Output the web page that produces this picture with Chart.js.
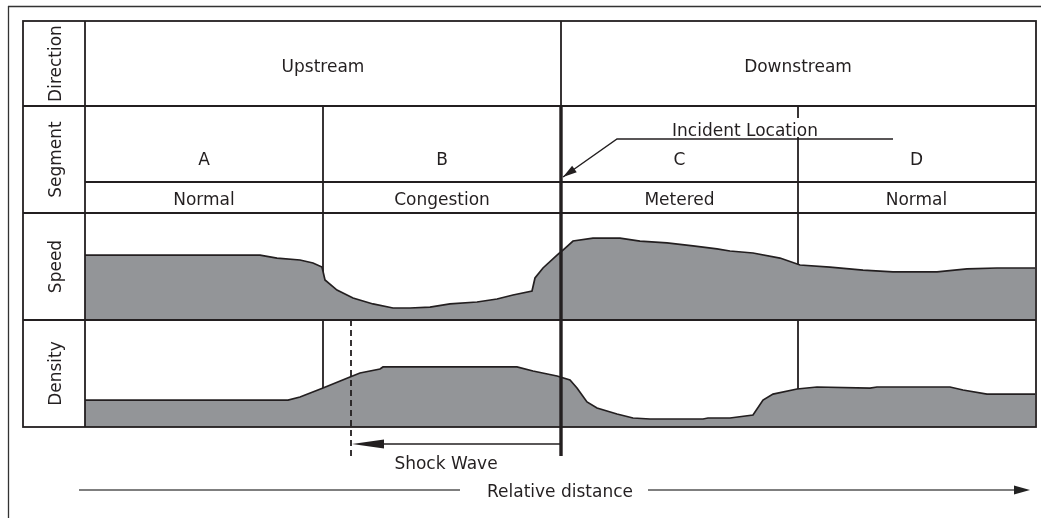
<!DOCTYPE html>
<html>
<head>
<meta charset="utf-8">
<title>Shock wave</title>
<script src="https://cdn.jsdelivr.net/npm/chart.js@4.4.0/dist/chart.umd.min.js"></script>
<style>
html, body { margin: 0; padding: 0; background: #fff; }
#wrap { width: 1041px; height: 518px; }
</style>
</head>
<body>
<div id="wrap"><canvas id="myChart" width="1041" height="518"></canvas></div>
<script>
// relative distance along the road, 0 = start of segment A, 950 = end of D
var segment_edges = [0, 238, 476, 713, 950];
var segment_labels = ["A", "B", "C", "D"];
var segment_states = ["Normal", "Congestion", "Metered", "Normal"];
var direction_labels = ["Upstream", "Downstream"];
var row_labels = ["Direction", "Segment", "Speed", "Density"];
var incident_at = 476;
var shock_wave_at = 266;

// speed profile (% of row height)
var speed_x = [0, 175, 192, 215, 228, 237, 240, 252, 268, 288, 308, 325, 345, 365, 392, 412, 428, 447, 450, 458,
	472, 478, 488, 508, 535, 555, 582, 608, 632, 645, 668, 695, 715, 745, 778, 808, 852, 882, 912, 950];
var speed_values = [60.7, 60.7, 57.9, 56.1, 53.3, 49.5, 37.4, 28.0, 20.6, 15.0, 11.2, 11.2, 12.1, 15.0, 16.8, 19.6, 23.4, 27.1, 39.3, 48.6,
	60.7, 65.4, 73.8, 76.6, 76.6, 73.8, 72.0, 69.2, 66.4, 64.5, 62.6, 57.9, 51.4, 49.5, 46.7, 44.9, 44.9, 47.7, 48.6, 48.6];

// density profile (% of row height)
var density_x = [0, 203, 215, 238, 265, 275, 295, 298, 432, 448, 472, 485, 492, 502, 512, 532, 548, 565, 618, 623,
	645, 668, 678, 688, 712, 732, 785, 792, 865, 878, 902, 950];
var density_values = [25.2, 25.2, 28.0, 36.4, 46.7, 50.5, 54.2, 56.1, 56.1, 52.3, 47.7, 43.9, 36.4, 23.4, 17.8, 12.1, 8.4, 7.5, 7.5, 8.4,
	8.4, 11.2, 25.2, 30.8, 35.5, 37.4, 36.4, 37.4, 37.4, 34.6, 30.8, 30.8];

const ink = "#231f20";
const gray = "#939598";
const font = '17px "DejaVu Sans"';

function toPoints(xs, ys) {
	return xs.map(function (x, i) {
		return { x: x, y: ys[i] };
	});
}

function line(ctx, x1, y1, x2, y2) {
	ctx.beginPath();
	ctx.moveTo(x1, y1);
	ctx.lineTo(x2, y2);
	ctx.stroke();
}

function arrowHead(ctx, tipX, tipY, fromX, fromY, len, half) {
	var dx = tipX - fromX, dy = tipY - fromY;
	var d = Math.sqrt(dx * dx + dy * dy);
	var ux = dx / d, uy = dy / d;
	var bx = tipX - ux * len, by = tipY - uy * len;
	ctx.beginPath();
	ctx.moveTo(tipX, tipY);
	ctx.lineTo(bx - uy * half, by + ux * half);
	ctx.lineTo(bx + uy * half, by - ux * half);
	ctx.closePath();
	ctx.fill();
}

var tablePlugin = {
	id: "trafficTable",
	beforeDatasetsDraw: function (chart) {
		// thin segment dividers sit behind the grey profiles
		var ctx = chart.ctx;
		var xs = chart.scales.x;
		var area = chart.chartArea;
		ctx.save();
		ctx.strokeStyle = ink;
		ctx.lineWidth = 1.8;
		[segment_edges[1], segment_edges[3]].forEach(function (v) {
			var px = xs.getPixelForValue(v);
			line(ctx, px, area.top, px, area.bottom);
		});
		ctx.restore();
	},
	afterDatasetsDraw: function (chart) {
		var ctx = chart.ctx;
		var xs = chart.scales.x;
		var area = chart.chartArea;
		var mid = chart.scales.ySpeed.getPixelForValue(0);
		var left = 23, labelRight = area.left, right = area.right + 1;
		var top = 21, dirBottom = 106, letterBottom = 182, segBottom = area.top, bottom = area.bottom;
		var px = function (v) { return xs.getPixelForValue(v); };
		var incX = px(incident_at);

		ctx.save();

		// outer frame
		ctx.strokeStyle = "#333";
		ctx.lineWidth = 1.3;
		line(ctx, 8, 6.5, 1041, 6.5);
		line(ctx, 8.5, 6, 8.5, 518);

		// table grid
		ctx.strokeStyle = ink;
		ctx.lineWidth = 1.8;
		ctx.strokeRect(left, top, right - left, bottom - top);
		line(ctx, labelRight, top, labelRight, bottom);
		[dirBottom, segBottom, mid].forEach(function (y) {
			line(ctx, left, y, right, y);
		});
		line(ctx, labelRight, letterBottom, right, letterBottom);
		line(ctx, incX, top, incX, dirBottom);
		[segment_edges[1], segment_edges[3]].forEach(function (v) {
			line(ctx, px(v), dirBottom, px(v), segBottom);
		});

		// incident location
		ctx.lineWidth = 3.4;
		line(ctx, incX, dirBottom, incX, 456);

		// shock wave front
		ctx.lineWidth = 1.8;
		ctx.setLineDash([6, 4]);
		line(ctx, px(shock_wave_at), mid, px(shock_wave_at), 456);
		ctx.setLineDash([]);

		ctx.fillStyle = ink;
		ctx.font = font;

		// row labels, rotated
		var rowMids = [(top + dirBottom) / 2, (dirBottom + segBottom) / 2, (segBottom + mid) / 2, (mid + bottom) / 2];
		ctx.textAlign = "center";
		ctx.textBaseline = "alphabetic";
		row_labels.forEach(function (t, i) {
			ctx.save();
			ctx.translate(61, rowMids[i]);
			ctx.rotate(-Math.PI / 2);
			ctx.fillText(t, 0, 0);
			ctx.restore();
		});

		// direction row
		ctx.fillText(direction_labels[0], (px(0) + incX) / 2, 72);
		ctx.fillText(direction_labels[1], (incX + px(950)) / 2, 72);

		// segments and their state
		segment_labels.forEach(function (t, i) {
			var cx = (px(segment_edges[i]) + px(segment_edges[i + 1])) / 2;
			ctx.fillText(t, cx, 165);
			ctx.fillText(segment_states[i], cx, 205);
		});

		// incident location callout
		var label = "Incident Location";
		var w = ctx.measureText(label).width;
		ctx.fillStyle = "#fff";
		ctx.fillRect(745 - w / 2 - 2, 118, w + 4, 19);
		ctx.fillStyle = ink;
		ctx.fillText(label, 745, 136);
		ctx.lineWidth = 1.4;
		ctx.beginPath();
		ctx.moveTo(893, 139);
		ctx.lineTo(617, 139);
		ctx.lineTo(incX + 2, 177);
		ctx.stroke();
		arrowHead(ctx, incX + 2, 177, 617, 139, 14, 4);

		// shock wave arrow
		line(ctx, incX, 444, px(shock_wave_at) + 20, 444);
		arrowHead(ctx, px(shock_wave_at) + 1, 444, incX, 444, 32, 4.5);
		ctx.fillText("Shock Wave", 446, 469);

		// relative distance axis
		ctx.strokeStyle = "#555";
		ctx.fillStyle = "#222";
		ctx.lineWidth = 1.3;
		line(ctx, 79, 490, 460, 490);
		line(ctx, 648, 490, 1016, 490);
		arrowHead(ctx, 1030, 490, 648, 490, 16, 4.5);
		ctx.fillStyle = ink;
		ctx.fillText("Relative distance", 560, 497);

		ctx.restore();
	}
};

const data = {
	datasets: [
		{
			label: "Speed",
			data: toPoints(speed_x, speed_values),
			yAxisID: "ySpeed",
			borderColor: ink,
			borderWidth: 1.7,
			backgroundColor: gray,
			fill: "origin",
			pointRadius: 0,
			tension: 0,
		},
		{
			label: "Density",
			data: toPoints(density_x, density_values),
			yAxisID: "yDensity",
			borderColor: ink,
			borderWidth: 1.7,
			backgroundColor: gray,
			fill: "origin",
			pointRadius: 0,
			tension: 0,
		},
	],
};

const config = {
	type: "line",
	data: data,
	options: {
		responsive: false,
		animation: false,
		devicePixelRatio: 1,
		layout: {
			padding: { left: 85, right: 6, top: 213, bottom: 91 },
		},
		plugins: {
			legend: { display: false },
			tooltip: { enabled: false },
		},
		scales: {
			x: { type: "linear", min: 0, max: 950, display: false },
			// speed fills the upper half, density the lower half
			ySpeed: { type: "linear", min: -100, max: 100, display: false },
			yDensity: { type: "linear", min: 0, max: 200, display: false },
		},
	},
	plugins: [tablePlugin],
};

const myChart = new Chart(document.getElementById("myChart"), config);
</script>
</body>
</html>
